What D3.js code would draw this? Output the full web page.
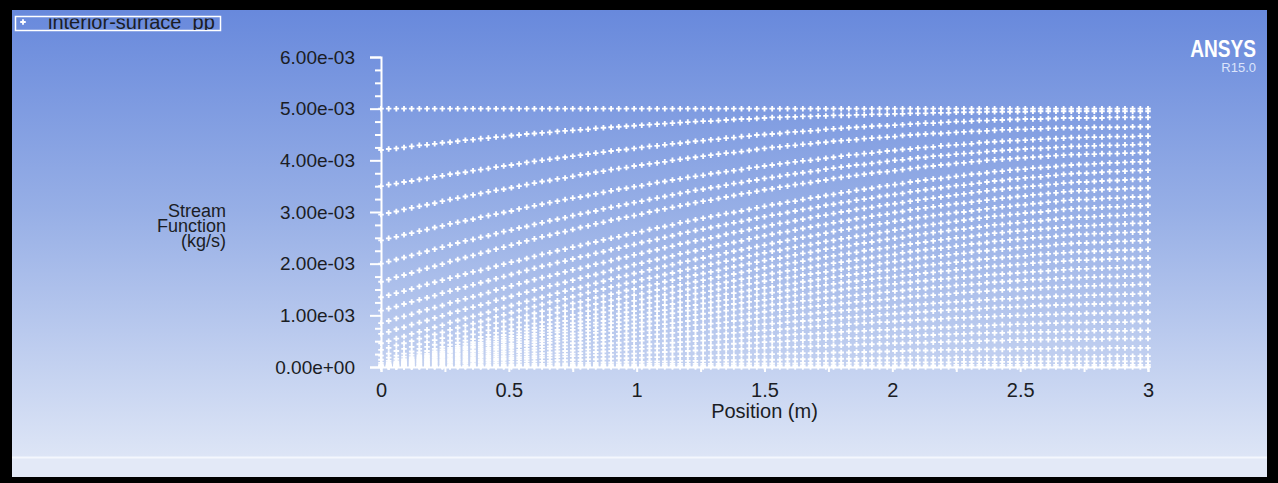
<!DOCTYPE html>
<html><head><meta charset="utf-8">
<script src="https://cdn.jsdelivr.net/npm/d3@7"></script>
<style>html,body{margin:0;padding:0;background:#000;}svg{display:block;}</style>
</head><body><svg id="chart" width="1278" height="483"></svg>
<script>
// Node positions along the surface (m), one per mesh column
const positions = [
  0,0.03,0.06,0.09,0.12,0.15,0.18,0.21,0.24,0.27,
  0.3,0.33,0.36,0.39,0.42,0.45,0.48,0.51,0.54,0.57,
  0.6,0.63,0.66,0.69,0.72,0.75,0.78,0.81,0.84,0.87,
  0.9,0.93,0.96,0.99,1.02,1.05,1.08,1.11,1.14,1.17,
  1.2,1.23,1.26,1.29,1.32,1.35,1.38,1.41,1.44,1.47,
  1.5,1.53,1.56,1.59,1.62,1.65,1.68,1.71,1.74,1.77,
  1.8,1.83,1.86,1.89,1.92,1.95,1.98,2.01,2.04,2.07,
  2.1,2.13,2.16,2.19,2.22,2.25,2.28,2.31,2.34,2.37,
  2.4,2.43,2.46,2.49,2.52,2.55,2.58,2.61,2.64,2.67,
  2.7,2.73,2.76,2.79,2.82,2.85,2.88,2.91,2.94,2.97,
  3
];

// Stream function at the nodes of each mesh row, in 1e-5 kg/s (row00 = outer wall)
const row00 = [
  500,500,500,500,500,500,500,500,500,500,500,500,500,500,500,500,500,500,500,500,
  500,500,500,500,500,500,500,500,500,500,500,500,500,500,500,500,500,500,500,500,
  500,500,500,500,500,500,500,500,500,500,500,500,500,500,500,500,500,500,500,500,
  500,500,500,500,500,500,500,500,500,500,500,500,500,500,500,500,500,500,500,500,
  500,500,500,500,500,500,500,500,500,500,500,500,500,500,500,500,500,500,500,500,500];
const row01 = [
  420,422,423,425,427,429,430,432,434,435,437,439,440,442,443,445,446,448,449,451,
  452,453,454,456,457,458,459,460,462,463,464,465,466,467,468,469,470,471,472,473,
  474,475,476,476,477,478,479,480,480,481,482,483,483,484,484,485,485,486,486,487,
  487,487,488,488,489,489,489,490,490,491,491,491,492,492,492,493,493,493,493,494,
  494,494,494,494,494,495,495,495,495,495,495,495,495,495,495,495,495,495,495,495,495];
const row02 = [
  350,353,355,358,360,363,365,368,370,373,375,377,380,382,384,387,389,391,393,396,
  398,400,402,404,406,408,410,412,414,416,418,420,421,423,425,427,428,430,432,433,
  435,437,438,440,441,443,444,446,447,449,450,451,452,454,455,456,457,458,460,461,
  462,463,464,465,466,467,467,468,469,470,471,472,472,473,474,475,475,476,477,477,
  478,478,479,479,480,480,480,481,481,482,482,482,482,482,482,483,483,483,483,483,483];
const row03 = [
  295,298,301,305,308,311,314,317,321,324,327,330,333,336,339,342,344,347,350,353,
  356,359,361,364,366,369,372,374,377,379,382,384,386,389,391,393,395,397,400,402,
  404,406,408,410,412,414,415,417,419,421,423,425,426,428,429,431,432,434,435,437,
  438,439,440,442,443,444,445,446,448,449,450,451,452,452,453,454,455,456,456,457,
  458,459,459,460,460,461,461,462,462,463,463,463,463,464,464,464,464,464,465,465,465];
const row04 = [
  245,249,252,256,259,263,266,270,273,277,280,283,286,290,293,296,299,302,306,309,
  312,315,318,321,324,327,329,332,335,338,341,344,346,349,351,354,357,359,362,364,
  367,369,371,374,376,378,380,382,385,387,389,391,393,395,397,399,400,402,404,406,
  408,410,411,413,414,416,418,419,421,422,424,425,426,428,429,430,431,432,434,435,
  436,437,438,438,439,440,441,442,442,443,444,444,445,445,445,446,446,446,446,447,447];
const row05 = [
  200,204,208,212,216,220,224,228,232,236,240,244,247,251,254,258,262,265,269,272,
  276,279,283,286,289,293,296,299,302,306,309,312,315,318,321,324,327,330,333,336,
  339,342,344,347,349,352,355,357,360,362,365,367,369,372,374,376,378,380,383,385,
  387,389,391,392,394,396,398,400,401,403,405,406,408,409,410,412,413,414,415,417,
  418,419,420,421,422,423,423,424,425,426,427,427,428,428,429,429,429,430,430,431,431];
const row06 = [
  165,169,174,178,182,187,191,195,199,204,208,212,216,220,224,228,232,236,240,244,
  248,252,255,259,262,266,270,273,277,280,284,287,290,293,296,300,303,306,309,312,
  315,318,321,323,326,329,332,335,337,340,343,345,348,350,353,355,357,360,362,365,
  367,369,371,373,375,377,378,380,382,384,386,388,389,391,392,394,395,397,398,400,
  401,402,403,404,405,406,407,408,409,410,411,411,412,412,413,413,413,414,414,415,415];
const row07 = [
  135,139,143,147,151,156,160,164,168,172,176,180,184,187,191,195,199,203,206,210,
  214,218,221,225,228,232,235,239,242,246,249,252,256,259,262,266,269,272,275,279,
  282,285,288,291,294,297,299,302,305,308,311,314,316,319,321,324,327,329,332,334,
  337,339,342,344,346,349,351,353,355,358,360,362,364,365,367,369,371,373,374,376,
  378,379,381,382,383,385,386,387,388,390,391,392,392,393,394,395,395,396,397,397,398];
const row08 = [
  109,113,117,122,126,130,134,138,143,147,151,155,159,163,167,171,175,179,183,187,
  191,195,198,202,205,209,213,216,220,223,227,230,234,237,241,244,247,251,254,258,
  261,264,267,270,273,276,279,282,285,288,291,294,296,299,302,305,307,310,313,315,
  318,320,323,325,327,330,332,334,336,339,341,343,345,347,349,351,352,354,356,358,
  360,361,363,364,366,367,368,370,371,373,374,375,375,376,377,378,378,379,380,380,381];
const row09 = [
  85,89,94,98,102,107,111,115,119,124,128,132,136,140,144,149,153,157,161,165,
  169,173,176,180,184,188,191,195,199,202,206,210,213,217,220,224,227,231,234,238,
  241,244,247,250,253,257,260,263,266,269,272,275,278,280,283,286,289,292,294,297,
  300,302,305,307,309,312,314,316,318,321,323,325,327,329,331,333,335,337,339,341,
  343,344,346,347,349,350,351,353,354,356,357,358,358,359,360,361,361,362,363,363,364];
const row10 = [
  64,68,73,77,82,86,90,95,99,104,108,112,116,120,124,129,133,137,141,145,
  149,153,157,160,164,168,172,176,179,183,187,191,194,198,201,205,208,212,215,219,
  222,225,228,232,235,238,241,244,248,251,254,257,260,262,265,268,271,274,276,279,
  282,284,287,289,292,294,296,299,301,304,306,308,310,312,314,316,317,319,321,323,
  325,327,328,330,331,333,334,336,337,339,340,341,341,342,343,344,344,345,346,346,347];
const row11 = [
  46,50,55,59,64,68,72,77,81,86,90,94,98,102,106,111,115,119,123,127,
  131,135,139,143,147,151,154,158,162,166,170,174,177,181,184,188,191,195,198,202,
  205,208,211,214,217,221,224,227,230,233,236,239,242,245,248,251,253,256,259,262,
  265,267,270,272,275,277,279,282,284,287,289,291,293,295,297,299,300,302,304,306,
  308,310,311,313,314,316,317,319,320,322,323,324,324,325,326,327,327,328,329,329,330];
const row12 = [
  33,37,42,46,50,55,59,63,67,72,76,80,84,88,92,97,101,105,109,113,
  117,121,125,128,132,136,140,144,147,151,155,158,162,165,169,172,175,179,182,186,
  189,192,195,199,202,205,208,211,215,218,221,224,226,229,232,235,237,240,243,245,
  248,250,253,255,258,260,262,265,267,270,272,274,276,278,280,282,284,286,288,290,
  292,293,295,296,298,299,300,302,303,305,306,307,307,308,309,310,310,311,312,312,313];
const row13 = [
  22,26,31,35,39,44,48,52,56,61,65,69,73,77,81,85,88,92,96,100,
  104,108,111,115,119,123,126,130,134,137,141,144,148,151,155,158,161,165,168,172,
  175,178,181,184,187,191,194,197,200,203,206,209,211,214,217,220,222,225,228,230,
  233,235,238,240,242,245,247,249,251,254,256,258,260,262,264,266,267,269,271,273,
  275,276,278,279,281,282,283,285,286,288,289,290,290,291,292,293,293,294,295,295,296];
const row14 = [
  14,18,22,26,30,35,39,43,47,51,55,59,63,67,71,75,78,82,86,90,
  94,98,101,105,108,112,115,119,122,126,129,132,136,139,142,146,149,152,155,159,
  162,165,168,171,174,177,180,183,186,189,192,195,197,200,202,205,208,210,213,215,
  218,220,222,225,227,229,231,233,236,238,240,242,244,246,248,250,251,253,255,257,
  259,260,262,263,264,266,267,268,269,271,272,273,273,274,275,276,276,277,278,278,279];
const row15 = [
  8,12,16,20,24,28,31,35,39,43,47,51,54,58,62,66,69,73,77,80,
  84,87,91,94,98,101,104,108,111,115,118,121,124,128,131,134,137,140,144,147,
  150,153,156,158,161,164,167,170,172,175,178,181,183,186,188,191,193,196,198,201,
  203,205,207,210,212,214,216,218,221,223,225,227,229,230,232,234,236,238,239,241,
  243,244,246,247,248,250,251,252,253,255,256,257,257,258,258,259,260,260,261,261,262];
const row16 = [
  4,8,11,15,19,23,26,30,34,37,41,45,48,52,55,59,62,66,69,73,
  76,79,83,86,89,93,96,99,102,106,109,112,115,118,121,124,127,130,133,136,
  139,142,144,147,150,153,155,158,161,163,166,168,171,173,175,178,180,182,184,187,
  189,191,193,195,197,200,202,204,206,208,210,212,213,215,217,219,220,222,224,225,
  227,228,229,231,232,233,234,235,237,238,239,240,240,241,241,242,243,243,244,244,245];
const row17 = [
  2,6,9,13,16,20,23,27,30,34,37,40,44,47,50,54,57,60,63,67,
  70,73,76,79,82,85,88,91,94,97,100,103,106,108,111,114,117,120,122,125,
  128,131,133,136,138,141,143,146,148,151,153,155,158,160,162,165,167,169,171,174,
  176,178,180,182,184,186,187,189,191,193,195,197,198,200,201,203,205,206,208,209,
  211,212,213,214,215,217,218,219,220,221,222,223,223,224,224,225,226,226,227,227,228];
const row18 = [
  1,4,8,11,14,18,21,24,27,31,34,37,40,43,46,49,52,55,58,61,
  64,67,70,72,75,78,81,84,86,89,92,95,97,100,102,105,108,110,113,115,
  118,120,123,125,128,130,132,135,137,140,142,144,146,148,150,153,155,157,159,161,
  163,165,166,168,170,172,173,175,177,178,180,182,183,185,186,188,189,191,192,194,
  195,196,197,198,199,201,202,203,204,205,206,207,207,208,208,209,209,210,210,211,211];
const row19 = [
  1,4,7,10,13,16,19,22,25,28,31,34,37,39,42,45,48,51,53,56,
  59,62,64,67,69,72,75,77,80,82,85,87,90,92,95,97,99,102,104,107,
  109,111,113,115,117,120,122,124,126,128,130,132,134,136,138,140,142,144,146,148,
  150,152,153,155,156,158,160,161,163,164,166,167,169,170,171,173,174,175,176,178,
  179,180,181,182,183,184,185,186,187,188,189,190,190,191,191,192,192,193,193,194,194];
const row20 = [
  0,3,5,8,11,14,16,19,22,24,27,30,32,35,37,40,43,45,48,50,
  53,55,58,60,63,65,67,70,72,75,77,79,81,84,86,88,90,92,95,97,
  99,101,103,105,107,109,111,113,115,117,119,121,122,124,126,128,129,131,133,134,
  136,138,139,141,142,144,145,147,148,150,151,152,154,155,156,158,159,160,161,163,
  164,165,166,167,168,169,169,170,171,172,173,173,174,174,175,175,175,176,176,177,177];
const row21 = [
  0,3,5,8,10,13,15,18,20,23,25,27,30,32,34,37,39,41,43,46,
  48,50,52,55,57,59,61,63,66,68,70,72,74,76,78,80,81,83,85,87,
  89,91,93,94,96,98,100,102,103,105,107,109,110,112,113,115,117,118,120,121,
  123,124,126,127,129,130,131,133,134,136,137,138,139,140,141,143,144,145,146,147,
  148,149,150,150,151,152,153,154,154,155,156,156,157,157,158,158,158,159,159,160,160];
const row22 = [
  0,2,4,7,9,11,13,15,18,20,22,24,26,28,30,33,35,37,39,41,
  43,45,47,49,51,53,54,56,58,60,62,64,65,67,69,71,72,74,76,77,
  79,81,82,84,85,87,89,90,92,93,95,96,98,99,101,102,103,105,106,108,
  109,110,111,113,114,115,116,117,119,120,121,122,123,124,125,126,127,128,129,130,
  131,132,132,133,134,135,135,136,137,137,138,138,139,139,140,140,140,141,141,142,142];
const row23 = [
  0,2,4,6,8,10,11,13,15,17,19,21,23,24,26,28,30,32,33,35,
  37,39,40,42,44,46,47,49,51,52,54,56,57,59,60,62,63,65,66,68,
  69,70,72,73,75,76,77,79,80,82,83,84,85,87,88,89,90,91,93,94,
  95,96,97,98,99,101,102,103,104,105,106,107,108,109,110,111,111,112,113,114,
  115,116,116,117,117,118,119,119,120,120,121,121,122,122,122,123,123,123,123,124,124];
const row24 = [
  0,2,3,5,6,8,10,11,13,14,16,18,19,21,22,24,26,27,29,30,
  32,33,35,36,38,39,40,42,43,45,46,47,49,50,51,53,54,55,56,58,
  59,60,61,63,64,65,66,67,69,70,71,72,73,74,75,77,78,79,80,81,
  82,83,84,85,86,87,87,88,89,90,91,92,92,93,94,95,95,96,97,97,
  98,99,99,100,100,101,101,102,102,103,103,103,104,104,104,105,105,105,105,106,106];
const row25 = [
  0,1,3,4,6,7,8,10,11,13,14,15,16,18,19,20,21,22,24,25,
  26,27,28,30,31,32,33,34,36,37,38,39,40,41,42,44,45,46,47,48,
  49,50,51,52,53,54,55,56,57,58,59,60,61,62,63,64,64,65,66,67,
  68,69,69,70,71,72,72,73,74,74,75,76,76,77,77,78,79,79,80,80,
  81,82,82,83,83,84,84,85,85,86,86,86,86,87,87,87,87,87,88,88,88];
const row26 = [
  0,1,2,3,4,6,7,8,9,10,11,12,13,14,15,16,17,18,19,20,
  21,22,23,24,25,26,27,28,29,30,31,32,33,34,35,36,36,37,38,39,
  40,41,42,42,43,44,45,46,46,47,48,49,49,50,51,52,52,53,54,54,
  55,56,56,57,57,58,59,59,60,60,61,62,62,63,63,64,64,65,65,66,
  66,66,67,67,67,68,68,68,68,69,69,69,69,70,70,70,70,70,71,71,71];
const row27 = [
  0,1,2,3,4,5,5,6,7,8,9,10,11,11,12,13,14,15,15,16,
  17,18,18,19,20,21,21,22,23,23,24,25,25,26,27,28,28,29,30,30,
  31,32,32,33,33,34,35,35,36,36,37,38,38,39,39,40,40,41,41,42,
  42,43,43,44,44,45,45,46,46,47,47,47,48,48,49,49,49,50,50,51,
  51,51,52,52,52,53,53,53,53,54,54,54,54,54,54,55,55,55,55,55,55];
const row28 = [
  0,1,1,2,2,3,4,4,5,5,6,7,7,8,8,9,9,10,10,11,
  11,12,12,13,13,14,14,15,15,16,16,17,17,18,18,19,19,20,20,21,
  21,21,22,22,23,23,23,24,24,25,25,25,26,26,26,27,27,27,27,28,
  28,28,29,29,30,30,30,31,31,32,32,32,32,33,33,33,33,33,34,34,
  34,34,34,35,35,35,35,35,36,36,36,36,36,36,36,37,37,37,37,37,37];
const row29 = [
  0,0,1,1,1,2,2,2,2,3,3,3,4,4,4,5,5,5,5,6,
  6,6,7,7,7,8,8,8,8,9,9,9,10,10,10,11,11,11,11,12,
  12,12,12,13,13,13,13,13,14,14,14,14,14,15,15,15,15,15,16,16,
  16,16,16,17,17,17,17,17,18,18,18,18,18,18,18,19,19,19,19,19,
  19,19,19,19,19,20,20,20,20,20,20,20,20,20,20,21,21,21,21,21,21];
const row30 = [
  0,0,0,1,1,1,1,1,2,2,2,2,2,2,2,3,3,3,3,3,
  3,3,3,4,4,4,4,4,5,5,5,5,5,5,5,6,6,6,6,6,
  6,6,6,6,6,7,7,7,7,7,7,7,7,7,7,8,8,8,8,8,
  8,8,8,8,8,9,9,9,9,9,9,9,9,9,9,10,10,10,10,10,
  10,10,10,10,10,11,11,11,11,11,11,11,11,11,11,11,11,11,11,11,11];
const row31 = [
  0,0,0,0,0,1,1,1,1,1,1,1,1,1,1,1,1,1,1,1,
  1,1,1,1,1,2,2,2,2,2,2,2,2,2,2,2,2,2,2,2,
  2,2,2,2,2,3,3,3,3,3,3,3,3,3,3,3,3,3,3,3,
  3,3,3,3,3,3,3,3,3,3,3,3,3,3,3,4,4,4,4,4,
  4,4,4,4,4,4,4,4,4,4,4,4,4,4,4,4,4,4,4,4,4];
const row32 = [
  0,0,0,0,0,0,0,0,0,0,0,0,0,0,0,0,0,0,0,0,
  0,0,0,0,0,0,0,0,0,0,0,0,0,0,0,0,0,0,0,0,
  0,0,0,0,0,0,0,0,0,0,0,0,0,0,0,0,0,0,0,0,
  0,0,0,0,0,0,0,0,0,0,0,0,0,0,0,0,0,0,0,0,
  0,0,0,0,0,0,0,0,0,0,0,0,0,0,0,0,0,0,0,0,0];

const meshRows = [row00,row01,row02,row03,row04,row05,row06,row07,row08,row09,row10,
  row11,row12,row13,row14,row15,row16,row17,row18,row19,row20,row21,row22,row23,
  row24,row25,row26,row27,row28,row29,row30,row31,row32];
const valueUnit = 1e-5; // kg/s per stored unit

const yTicks = [0, 0.001, 0.002, 0.003, 0.004, 0.005, 0.006];
const yTickLabels = ["0.00e+00","1.00e-03","2.00e-03","3.00e-03","4.00e-03","5.00e-03","6.00e-03"];
const yMinorTicks = [0.00025,0.0005,0.00075,0.00125,0.0015,0.00175,0.00225,0.0025,0.00275,
  0.00325,0.0035,0.00375,0.00425,0.0045,0.00475,0.00525,0.0055,0.00575];
const xTicks = [0, 0.5, 1, 1.5, 2, 2.5, 3];
const xTickLabels = ["0","0.5","1","1.5","2","2.5","3"];
const xMinorTicks = [0.25, 0.75, 1.25, 1.75, 2.25, 2.75];
const seriesName = "interior-surface_pp";
const yTitle = ["Stream", "Function", "(kg/s)"];
const xTitle = "Position (m)";

const svg = d3.select("#chart");
const W = 1278, H = 483;
const defs = svg.append("defs");

// Window background: black frame, blue-to-white gradient panel, footer strip
const grad = defs.append("linearGradient").attr("id", "bg").attr("x1", 0).attr("y1", 0).attr("x2", 0).attr("y2", 1);
grad.append("stop").attr("offset", "0%").attr("stop-color", "#6889dc");
grad.append("stop").attr("offset", "45%").attr("stop-color", "#97afe6");
grad.append("stop").attr("offset", "100%").attr("stop-color", "#dde5f6");
svg.append("rect").attr("width", W).attr("height", H).attr("fill", "#000");
svg.append("rect").attr("x", 12).attr("y", 10).attr("width", 1255).attr("height", 447).attr("fill", "url(#bg)");
svg.append("rect").attr("x", 12).attr("y", 457).attr("width", 1255).attr("height", 20).attr("fill", "#e3e9f7");
svg.append("line").attr("x1", 12).attr("x2", 1267).attr("y1", 457.5).attr("y2", 457.5).attr("stroke", "#f4f7fd").attr("stroke-width", 2);

const x = d3.scaleLinear().domain([0, 3]).range([381, 1148]);
const y = d3.scaleLinear().domain([0, 0.006]).range([367, 57]);

const font = "'Liberation Sans', Arial, sans-serif";
const textColor = "#1b1d24";

// Y axis with minor ticks
const gy = svg.append("g").attr("transform", "translate(381,0)")
  .call(d3.axisLeft(y).tickValues(yTicks).tickFormat((d, i) => yTickLabels[i]).tickSize(11).tickPadding(15));
gy.select(".domain").attr("stroke", "#fff").attr("stroke-width", 2);
gy.selectAll(".tick line").attr("stroke", "#fff").attr("stroke-width", 2);
gy.selectAll(".tick text").attr("fill", textColor).style("font-family", font).style("font-size", "19px");
svg.append("g").attr("transform", "translate(381,0)")
  .call(d3.axisLeft(y).tickValues(yMinorTicks).tickFormat("").tickSize(6))
  .call(g => g.select(".domain").remove())
  .selectAll(".tick line").attr("stroke", "#fff").attr("stroke-width", 2);

// X axis with minor ticks
const gx = svg.append("g").attr("transform", "translate(0,367)")
  .call(d3.axisBottom(x).tickValues(xTicks).tickFormat((d, i) => xTickLabels[i]).tickSize(5).tickPadding(11));
gx.select(".domain").attr("stroke", "#fff").attr("stroke-width", 2);
gx.selectAll(".tick line").attr("stroke", "#fff").attr("stroke-width", 2);
gx.selectAll(".tick text").attr("fill", textColor).style("font-family", font).style("font-size", "20px");
svg.append("g").attr("transform", "translate(0,367)")
  .call(d3.axisBottom(x).tickValues(xMinorTicks).tickFormat("").tickSize(5))
  .call(g => g.select(".domain").remove())
  .selectAll(".tick line").attr("stroke", "#fff").attr("stroke-width", 2);

// Axis titles
svg.append("text").attr("x", x(1.5)).attr("y", 418).attr("text-anchor", "middle")
  .attr("fill", textColor).style("font-family", font).style("font-size", "20px").text(xTitle);
svg.append("g").selectAll("text").data(yTitle).join("text")
  .attr("x", 226).attr("y", (d, i) => 217 + i * 15).attr("text-anchor", "end")
  .attr("fill", textColor).style("font-family", font).style("font-size", "18px").text(d => d);

// Node markers
const cross = d3.symbol().type(d3.symbolCross).size(17)();
const points = [];
meshRows.forEach(row => row.forEach((v, k) => points.push([positions[k], v * valueUnit])));
svg.append("g").selectAll("path").data(points).join("path")
  .attr("d", cross).attr("transform", d => `translate(${x(d[0])},${y(d[1])})`)
  .attr("fill", "#fff");

// Legend
defs.append("clipPath").attr("id", "lgclip").append("rect").attr("x", 15).attr("y", 18.5).attr("width", 206).attr("height", 11.5);
const lg = svg.append("g");
lg.append("rect").attr("x", 15.5).attr("y", 16.5).attr("width", 205).attr("height", 14).attr("fill", "none").attr("stroke", "#fff").attr("stroke-width", 1.5);
lg.append("path").attr("d", cross).attr("transform", "translate(23,22)").attr("fill", "#fff");
lg.append("text").attr("x", 48).attr("y", 29).attr("clip-path", "url(#lgclip)")
  .attr("fill", textColor).style("font-family", font).style("font-size", "20px").text(seriesName);

// Product mark
svg.append("g").attr("transform", "translate(1256,57) scale(0.83,1)")
  .append("text").attr("text-anchor", "end").attr("fill", "#fff")
  .style("font-family", font).style("font-weight", "bold").style("font-size", "23px").text("ANSYS");
svg.append("text").attr("x", 1256).attr("y", 72).attr("text-anchor", "end").attr("fill", "#dbe4fb")
  .style("font-family", font).style("font-size", "13px").text("R15.0");
</script></body></html>
